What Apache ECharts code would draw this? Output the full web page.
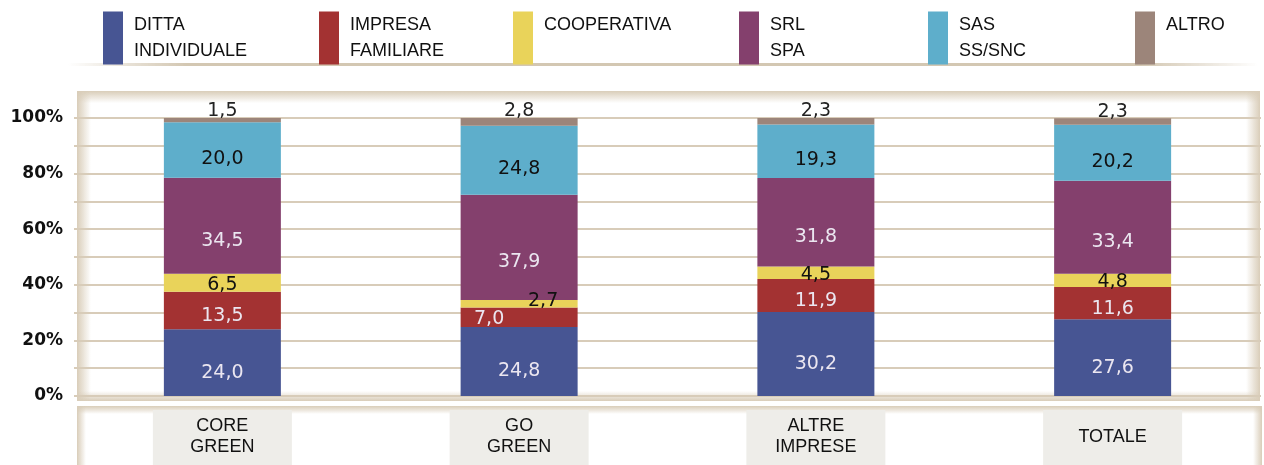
<!DOCTYPE html>
<html>
<head>
<meta charset="utf-8">
<script src="https://cdn.jsdelivr.net/npm/echarts@6/dist/echarts.min.js"></script>
<style>
  html, body { margin: 0; padding: 0; background: #fff; }
  #main { width: 1264px; height: 465px; }
</style>
</head>
<body>
<div id="main"></div>
<script>
var categories = ['CORE\nGREEN', 'GO\nGREEN', 'ALTRE\nIMPRESE', 'TOTALE'];
var seriesNames = ['DITTA\nINDIVIDUALE', 'IMPRESA\nFAMILIARE', 'COOPERATIVA', 'SRL\nSPA', 'SAS\nSS/SNC', 'ALTRO'];
var ditta = [24.0, 24.8, 30.2, 27.6];
var impresa = [13.5, 7.0, 11.9, 11.6];
var cooperativa = [6.5, 2.7, 4.5, 4.8];
var srl = [34.5, 37.9, 31.8, 33.4];
var sas = [20.0, 24.8, 19.3, 20.2];
var altro = [1.5, 2.8, 2.3, 2.3];

var colors = ['#475593', '#a33232', '#e9d35a', '#84406d', '#5eaecb', '#9c857a'];
var labelColors = ['#ebe6f0', '#ebe6f0', '#111', '#ebe6f0', '#111', '#222'];
var labelOffsets = [[0, 10], [0, 6], [0, 2], [0, 15], [0, 9], [0, 3]];
var legendLeft = [103, 319, 513, 739, 928, 1135];

var font = 'DejaVu Sans';
var beige = '#d9cdb9';
var clear = 'rgba(217,205,185,0)';

var chart = echarts.init(document.getElementById('main'));
var values = [ditta, impresa, cooperativa, srl, sas, altro];

function fmt(v) { return v.toFixed(1).replace('.', ','); }

// bordo sfumato: x,y,w,h + direzione gradiente
function edge(x, y, w, h, x1, y1, x2, y2) {
  return {
    type: 'rect', z: -10, silent: true,
    shape: { x: x, y: y, width: w, height: h },
    style: {
      fill: new echarts.graphic.LinearGradient(x1, y1, x2, y2, [
        { offset: 0, color: beige },
        { offset: 1, color: clear }
      ])
    }
  };
}

var series = values.map(function (arr, i) {
  return {
    name: seriesNames[i],
    type: 'bar',
    stack: 'tot',
    barWidth: 117,
    itemStyle: { color: colors[i] },
    data: arr.map(function (v, j) {
      var item = { value: v };
      // piccoli aggiustamenti etichette su GO GREEN
      if (j === 1 && i === 1) item.label = { offset: [-30, 2] };
      if (j === 1 && i === 2) item.label = { offset: [24, -3] };
      return item;
    }),
    label: {
      show: true,
      position: i === 5 ? 'top' : 'inside',
      distance: 0,
      offset: labelOffsets[i],
      color: labelColors[i],
      fontFamily: font,
      fontSize: 19,
      formatter: function (p) { return fmt(p.value); }
    }
  };
});

var legends = seriesNames.map(function (n, i) {
  return {
    data: [n],
    left: legendLeft[i],
    top: 7,
    padding: 0,
    icon: 'rect',
    itemWidth: 20,
    itemHeight: 53,
    selectedMode: false,
    formatter: function (name) {
      return name.indexOf('\n') < 0 ? name + '\n ' : name;
    },
    textStyle: {
      fontFamily: 'Liberation Sans',
      fontSize: 18,
      color: '#111',
      lineHeight: 26,
      padding: [0, 0, 10, 6]
    }
  };
});

var option = {
  animation: false,
  legend: legends,
  graphic: [
    {
      type: 'rect', z: -10, silent: true,
      shape: { x: 68, y: 63, width: 1190, height: 3 },
      style: {
        fill: new echarts.graphic.LinearGradient(0, 0, 1, 0, [
          { offset: 0, color: 'rgba(207,194,172,0)' },
          { offset: 0.1, color: '#d3c7b2' },
          { offset: 0.9, color: '#d3c7b2' },
          { offset: 1, color: 'rgba(207,194,172,0)' }
        ])
      }
    },
    // riquadro del grafico
    edge(77, 91, 1183, 12, 0, 0, 0, 1),
    edge(77, 91, 14, 310, 0, 0, 1, 0),
    edge(1246, 91, 14, 310, 1, 0, 0, 0),
    edge(77, 391, 1183, 10, 0, 1, 0, 0),
    // fascia categorie
    edge(77, 406, 1185, 8, 0, 0, 0, 1),
    edge(77, 406, 9, 59, 0, 0, 1, 0),
    edge(1253, 406, 9, 59, 1, 0, 0, 0)
  ],
  grid: { left: 74, width: 1187, top: 118, bottom: 69 },
  xAxis: {
    type: 'category',
    data: categories.map(function (c) {
      var one = c.indexOf('\n') < 0;
      return { value: c, textStyle: { padding: one ? [17, 0, 17, 0] : [6, 0, 7, 0] } };
    }),
    axisLine: { show: false },
    axisTick: { show: false },
    axisLabel: {
      margin: 14,
      fontFamily: 'Liberation Sans',
      fontSize: 18,
      lineHeight: 21,
      color: '#111',
      backgroundColor: '#eeede9',
      width: 139,
      align: 'center'
    }
  },
  yAxis: {
    type: 'value',
    min: 0,
    max: 100,
    interval: 10,
    axisLine: { show: false },
    axisTick: { show: false },
    splitLine: { lineStyle: { color: '#d8ccb9', width: 2 } },
    axisLabel: {
      margin: 11,
      fontFamily: font,
      fontWeight: 'bold',
      fontSize: 17,
      color: '#111',
      formatter: function (v) { return v % 20 === 0 ? v + '%' : ''; }
    }
  },
  series: series
};

chart.setOption(option);
</script>
</body>
</html>
